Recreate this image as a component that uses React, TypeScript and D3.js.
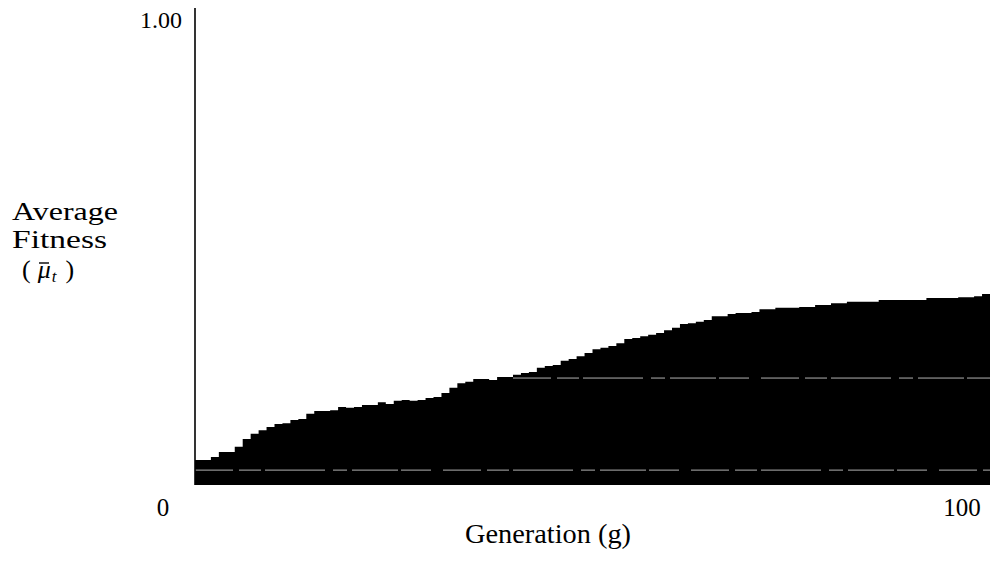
import React, { useRef, useEffect } from 'react';
import * as d3 from 'd3';

// ── Data ──────────────────────────────────────────────────────────────────────
// average fitness per generation (g = 0 … 99)
const generations = d3.range(0, 100);
const avgFitness = [
  0.054, 0.054, 0.060, 0.071, 0.071, 0.082, 0.099, 0.110, 0.118, 0.125,
  0.131, 0.133, 0.140, 0.142, 0.153, 0.159, 0.159, 0.161, 0.168, 0.166,
  0.168, 0.172, 0.172, 0.178, 0.174, 0.181, 0.183, 0.181, 0.183, 0.187,
  0.189, 0.198, 0.209, 0.219, 0.222, 0.228, 0.228, 0.226, 0.232, 0.232,
  0.237, 0.241, 0.243, 0.252, 0.256, 0.258, 0.267, 0.271, 0.277, 0.284,
  0.292, 0.295, 0.299, 0.305, 0.314, 0.316, 0.320, 0.323, 0.327, 0.333,
  0.338, 0.346, 0.348, 0.351, 0.355, 0.363, 0.363, 0.368, 0.370, 0.370,
  0.372, 0.378, 0.378, 0.381, 0.381, 0.381, 0.383, 0.383, 0.387, 0.387,
  0.391, 0.391, 0.394, 0.394, 0.394, 0.394, 0.398, 0.398, 0.398, 0.398,
  0.398, 0.398, 0.402, 0.402, 0.402, 0.402, 0.404, 0.404, 0.406, 0.411,
];

const xTicks = [0, 100];
const yTicks = [1.0];

// white scan streaks crossing the filled area (level, from g, to g)
const streakLevels = [0.032, 0.230];
const streakFrom = [0, 40];
const streakTo = [100, 100];

// ── Chart ─────────────────────────────────────────────────────────────────────
const W = 990;
const H = 563;
const FONT = '"Liberation Serif", "Times New Roman", serif';

export default function App() {
  const svgRef = useRef<SVGSVGElement>(null);

  useEffect(() => {
    if (!svgRef.current) return;
    const svg = d3.select(svgRef.current);
    svg.selectAll('*').remove();

    const x = d3.scaleLinear().domain([0, 100]).range([195, 990]);
    const y = d3.scaleLinear().domain([0, 1]).range([485, 20]);

    // step area
    const pts = generations.map((g, i) => ({ g, v: avgFitness[i] }));
    pts.push({ g: 100, v: avgFitness[avgFitness.length - 1] });
    const area = d3.area<{ g: number; v: number }>()
      .x(d => x(d.g))
      .y0(y(0))
      .y1(d => y(d.v))
      .curve(d3.curveStepAfter);
    svg.append('path').attr('d', area(pts)!).attr('fill', '#000');

    // streaks
    streakLevels.forEach((lv, i) => {
      svg.append('line')
        .attr('x1', x(streakFrom[i])).attr('x2', x(streakTo[i]))
        .attr('y1', y(lv)).attr('y2', y(lv))
        .attr('stroke', '#ddd').attr('stroke-width', 1)
        .attr('stroke-opacity', 0.8)
        .attr('stroke-dasharray', '38 6 22 4 60 8 14 5 46 3 30 12');
    });

    // y axis line
    svg.append('line')
      .attr('x1', x(0)).attr('x2', x(0))
      .attr('y1', 8).attr('y2', y(0))
      .attr('stroke', '#000').attr('stroke-width', 1.6);

    // tick labels
    yTicks.forEach(t => {
      svg.append('text')
        .attr('x', 182).attr('y', y(t) + 8)
        .attr('text-anchor', 'end')
        .attr('font-family', FONT).attr('font-size', 24)
        .text(d3.format('.2f')(t));
    });
    xTicks.forEach(t => {
      svg.append('text')
        .attr('x', t === 0 ? x(t) - 32 : x(t) - 28)
        .attr('y', 516)
        .attr('text-anchor', 'middle')
        .attr('font-family', FONT).attr('font-size', 25)
        .text(String(t));
    });

    // axis titles
    svg.append('text')
      .attr('x', 465).attr('y', 543)
      .attr('font-family', FONT).attr('font-size', 27)
      .attr('textLength', 166).attr('lengthAdjust', 'spacingAndGlyphs')
      .text('Generation  (g)');

    svg.append('text')
      .attr('x', 12).attr('y', 220)
      .attr('font-family', FONT).attr('font-size', 26)
      .attr('textLength', 106).attr('lengthAdjust', 'spacingAndGlyphs')
      .text('Average');
    svg.append('text')
      .attr('x', 12).attr('y', 248)
      .attr('font-family', FONT).attr('font-size', 26)
      .attr('textLength', 95).attr('lengthAdjust', 'spacingAndGlyphs')
      .text('Fitness');

    // (μ̄_t)
    const mu = svg.append('text')
      .attr('x', 22).attr('y', 278)
      .attr('font-family', FONT).attr('font-size', 26);
    mu.append('tspan').text('(');
    mu.append('tspan').attr('font-style', 'italic').attr('dx', 7).text('\u03BC');
    mu.append('tspan').attr('font-style', 'italic').attr('font-size', 17).attr('dy', 4).attr('dx', 1).text('t');
    mu.append('tspan').attr('dy', -4).attr('dx', 9).text(')');
    svg.append('line')
      .attr('x1', 39).attr('x2', 49)
      .attr('y1', 263).attr('y2', 263)
      .attr('stroke', '#000').attr('stroke-width', 1.4);
  }, []);

  return (
    <div style={{ position: 'fixed', left: 0, top: 0, width: W, height: H, background: '#fff' }}>
      <svg ref={svgRef} width={W} height={H} style={{ display: 'block' }} />
    </div>
  );
}
